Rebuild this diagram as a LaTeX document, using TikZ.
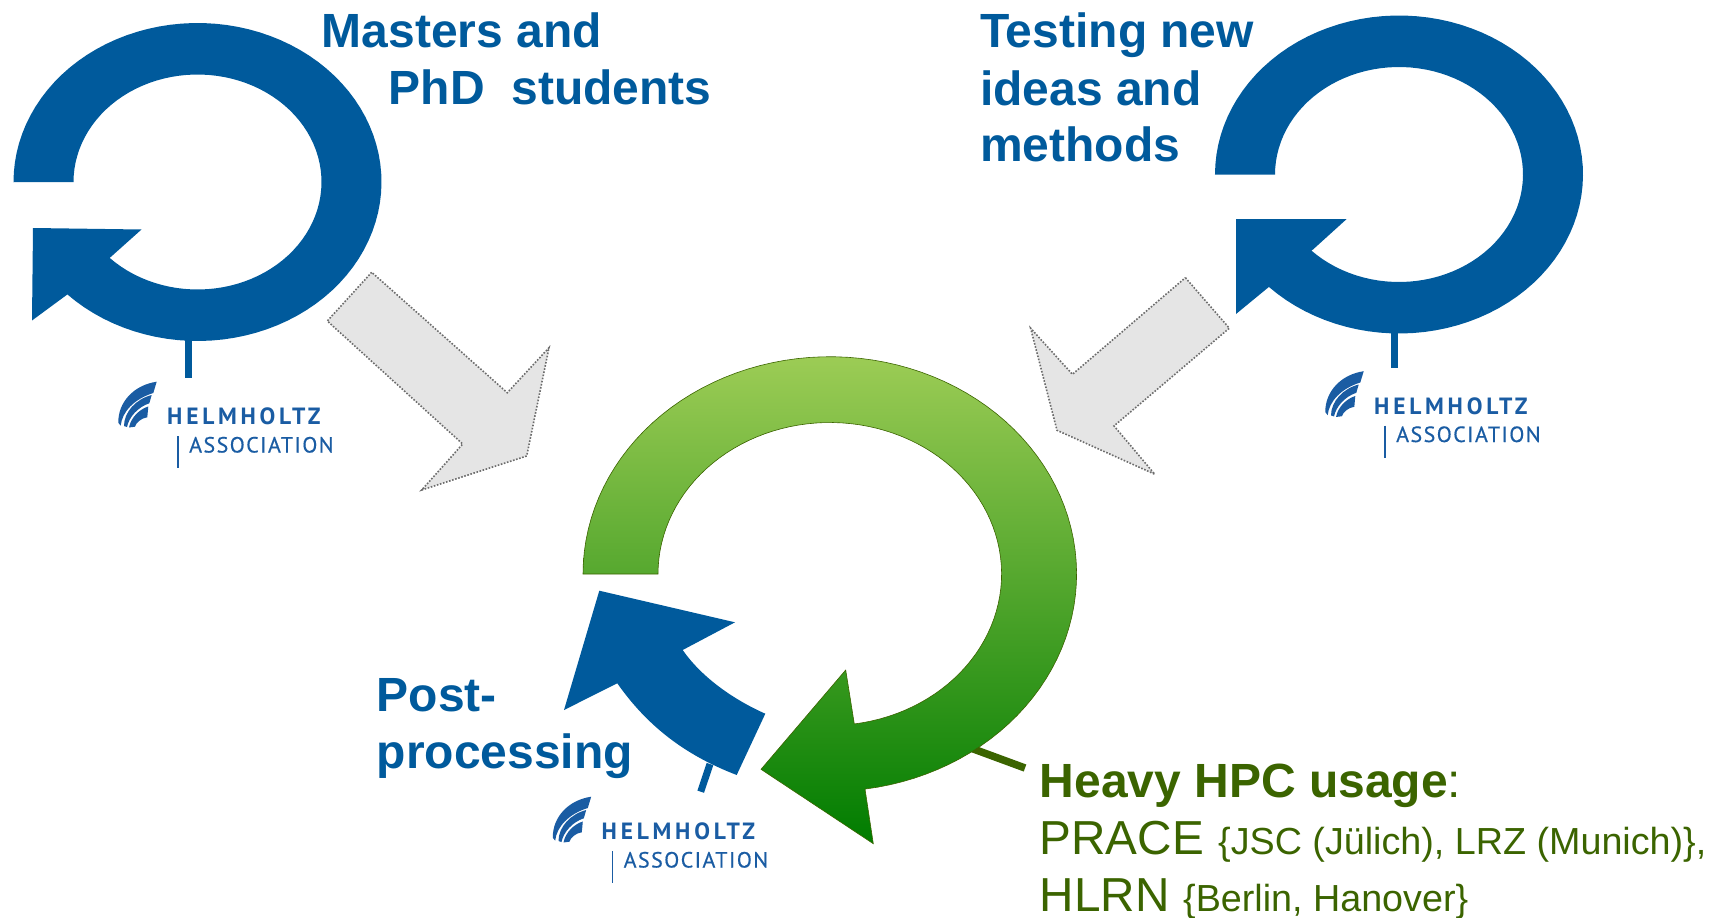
\documentclass[tikz,border=0pt]{standalone}
\usepackage{fontspec}
\setmainfont{Liberation Sans}
\newfontfamily\helmfont[LetterSpace=16]{PT Sans}
\newfontfamily\assocfont[LetterSpace=6.5,FakeBold=0.5]{PT Sans}
\definecolor{fzjblue}{HTML}{005A9C}
\definecolor{hgfblue}{HTML}{1A5CA3}
\definecolor{hpcolive}{HTML}{3B6400}
\definecolor{ringtop}{HTML}{9CCC55}
\definecolor{ringmid}{HTML}{57A833}
\definecolor{ringbot}{HTML}{007C00}
\tikzset{
  headline/.style={anchor=base west,inner sep=0pt,text=fzjblue,font=\fontsize{48}{57}\selectfont\bfseries},
  hpcline/.style={anchor=base west,inner sep=0pt,text=hpcolive,font=\fontsize{47.7}{57}\selectfont},
  hpcsmall/.style={anchor=base west,inner sep=0pt,text=hpcolive,font=\fontsize{37.7}{46}\selectfont},
  hintarrow/.style={draw=gray!85!black,line width=1.6pt,dash pattern=on 1.6pt off 1.6pt,fill=gray!20},
}
\begin{document}
\begin{tikzpicture}[x=1pt,y=-1pt]
    \useasboundingbox (0,0) rectangle (1721,918);
    % tails under the rings
    \draw[fzjblue,line width=7pt] (188,340) -- (188,378);
    \draw[fzjblue,line width=7pt] (1394.5,330) -- (1394.5,368);
    \draw[fzjblue,line width=7pt] (710,764) -- (700.7,791.7);
    \draw[hpcolive,line width=7.5pt] (968,747) -- (1025,768);
    % blue rings
    \foreach \dx/\dy/\ax/\ay/\bx/\by/\cx/\cy/\nx/\ny in {0/0/32/320.5/33/228/141.5/229.5/108.5/259,1201.5/-7.5/34.5/321.5/34.5/226.5/145.2/226.5/111.5/257} {
        \fill[fzjblue,shift={(\dx,\dy)}] (13,182)
            -- plot[domain=180:495,samples=90,variable=\t] ({197.5+184*cos(\t)},{182+159*sin(\t)})
            -- (\ax,\ay) -- (\bx,\by) -- (\cx,\cy) -- (\nx,\ny)
            -- plot[domain=495:180,samples=90,variable=\t] ({197.5+124*cos(\t)},{182+107.5*sin(\t)})
            -- cycle;
    }
    % green ring
    \shade[draw=hpcolive,line width=0.6pt,top color=ringtop,middle color=ringmid,bottom color=ringbot] (583,574)
        -- plot[domain=180:441.8,samples=90,variable=\t] ({829.8+246.8*cos(\t)},{574+217.3*sin(\t)})
        -- (873.3,843.7) -- (761,769.3) -- (845.7,670) -- (854.3,724)
        -- plot[domain=441.8:180,samples=90,variable=\t] ({829.8+171.8*cos(\t)},{574+151.5*sin(\t)})
        -- cycle;
    % post-processing arrow
    \fill[fzjblue] (599.3,590.7) -- (735,622.3) -- (682.7,650)
        .. controls (700,675) and (730,698) .. (765.3,713.7)
        -- (736.7,775)
        .. controls (690,757) and (650,730) .. (617.3,683.3)
        -- (564,710) -- cycle;
    % dotted arrows
    \draw[hintarrow] (371.7,272.3) -- (327.3,321) -- (462.7,444) -- (421.7,490) -- (526.7,456) -- (549,347.7) -- (507.3,392.7) -- cycle;
    \draw[hintarrow] (1185.4,277.7) -- (1229.3,328.2) -- (1114,425.9) -- (1154.7,474.2) -- (1057,430.3) -- (1030.6,328.2) -- (1072.4,374.3) -- cycle;
    % logos
    \foreach \i/\dx/\dy in {a/0/0,b/1207/-10.5,c/434.5/415} {
        \begin{scope}[shift={(\dx,\dy)}]
            \fill[hgfblue] (156.7,381.7) .. controls (134,385) and (118,402) .. (118.3,422.7) -- (120.7,425.7) .. controls (122,412) and (134,399) .. (153.3,393) -- cycle;
            \fill[hgfblue] (151.7,395) .. controls (136,399) and (124,412) .. (124,426) -- (127,427) .. controls (129,417) and (138,407) .. (149.3,403.3) -- cycle;
            \fill[hgfblue] (148.3,406.5) .. controls (140,409) and (131,417) .. (129,427.5) -- (135,426.7) .. controls (136,423) and (141,418) .. (147.3,417.3) -- cycle;
            \node[anchor=base west,inner sep=0pt,text=hgfblue,font=\helmfont\bfseries\fontsize{23.5}{24}\selectfont] (helm\i) at (167,424.5) {HELMHOLTZ};
            \node[anchor=base west,inner sep=0pt,text=hgfblue,font=\assocfont\fontsize{22}{22}\selectfont] (assoc\i) at (189,452.5) {ASSOCIATION};
            \draw[hgfblue,line width=1.6pt] (178,436) -- (178,468);
        \end{scope}
    }
    % labels
    \node[headline] (masters) at (321.6,47) {Masters and};
    \node[headline] (phd) at (388.5,104.5) {PhD\ \ students};
    \node[headline] (testing) at (980,47) {Testing new};
    \node[headline] (ideas) at (980,105) {ideas and};
    \node[headline] (methods) at (980,161.5) {methods};
    \node[headline] (post) at (376.5,711) {Post-};
    \node[headline] (processing) at (376.5,768) {processing};
    \node[hpcline,font=\fontsize{48}{57}\selectfont\bfseries] (heavy) at (1039.5,797) {Heavy HPC usage\textmd{:}};
    \node[hpcline] (prace) at (1039.5,854) {PRACE};
    \node[hpcsmall] (praceb) at (1218,854) {\{JSC (Jülich), LRZ (Munich)\},};
    \node[hpcline] (hlrn) at (1039.5,911) {HLRN};
    \node[hpcsmall] (hlrnb) at (1183,911) {\{Berlin, Hanover\}};
\end{tikzpicture}
\end{document}
